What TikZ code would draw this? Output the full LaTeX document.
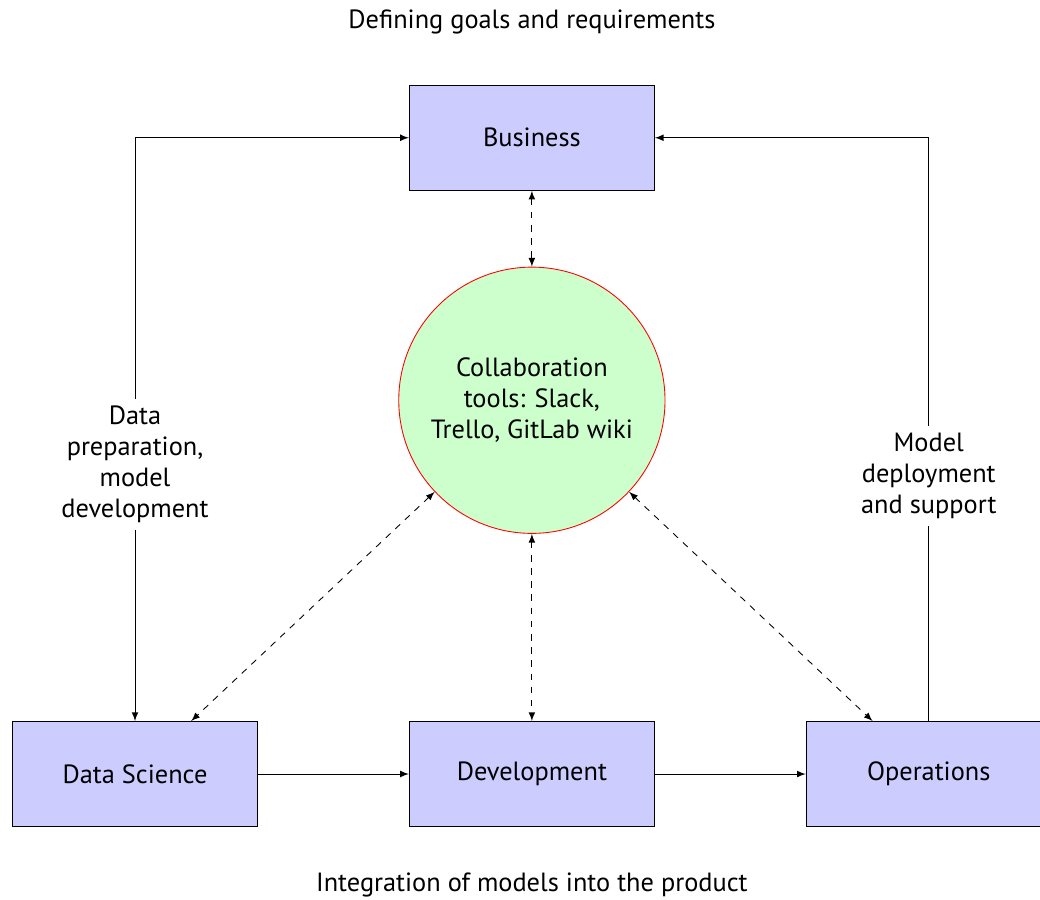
\documentclass[tikz,border=0pt]{standalone}
\usepackage{fontspec}
\setmainfont{PT Sans}
\usetikzlibrary{arrows}

\tikzstyle{arrow} = [->,>=latex]
\tikzstyle{dasharrow} = [dashed,<->,>=latex]
\tikzstyle{team} = [rectangle, draw, fill=blue!20, minimum width=3.92cm, minimum height=1.68cm]
\tikzstyle{hub} = [circle, draw=red, fill=green!20, minimum size=4.26cm, align=center]
\tikzstyle{task} = [fill=white, align=center]

\begin{document}
\begin{tikzpicture}[node distance=6.35cm, font=\large]
\useasboundingbox (0,0) rectangle (16.64,14.384);
\node (ds) [team] at (2.16,2.0) {Data Science};
\node (dev) [team, right of=ds] {Development};
\node (ops) [team, right of=dev] {Operations};
\node (business) [team, above of=dev, node distance=10.18cm] {Business};
\node (tools) [hub, above of=dev, node distance=5.98cm] {Collaboration\\ tools: Slack,\\ Trello, GitLab wiki};
\node (goals) [above of=business, node distance=1.86cm] {Defining goals and requirements};
\node (product) [below of=dev, node distance=1.78cm] {Integration of models into the product};

\draw [arrow] (ds) -- (dev);
\draw [arrow] (dev) -- (ops);
\draw [<->,>=latex] (business) -| node [task, pos=0.78] {Data\\ preparation,\\ model\\ development} (ds);
\draw [arrow] (ops) |- node [task, pos=0.21] {Model\\ deployment\\ and support} (business);

\draw [dasharrow] (business) -- (tools);
\draw [dasharrow] (tools) -- (dev);
\draw [dasharrow] (tools) -- (ds);
\draw [dasharrow] (tools) -- (ops);

\end{tikzpicture}
\end{document}
